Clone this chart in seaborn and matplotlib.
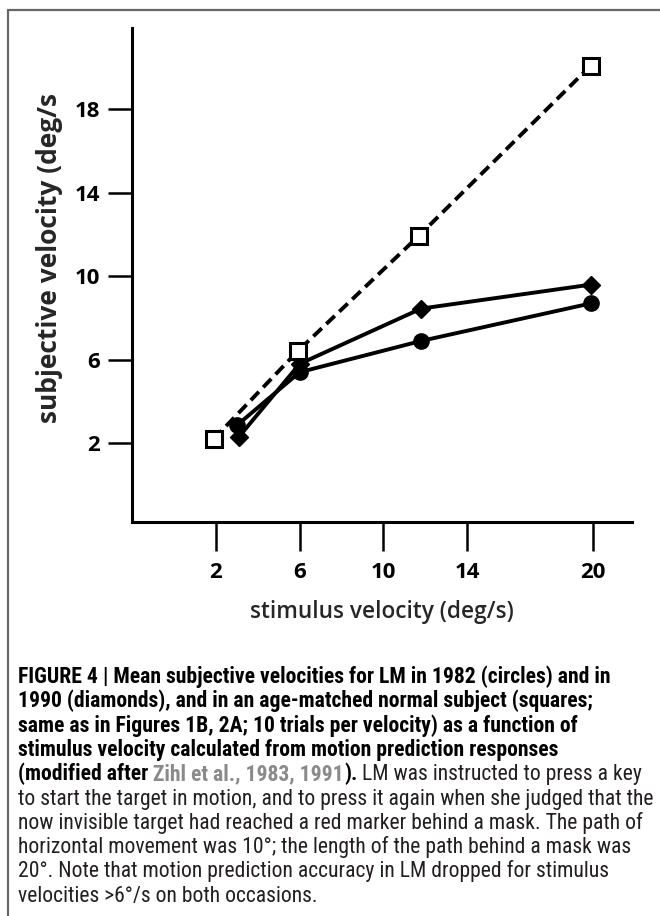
import numpy as np
import pandas as pd
import matplotlib
matplotlib.use("Agg")
import matplotlib.pyplot as plt
import seaborn as sns
from matplotlib import font_manager as fm
from matplotlib.patches import Rectangle

# values (stimulus velocity -> subjective velocity, deg/s)
stim_1982 = [3.0, 6.0, 11.8, 19.9]      # LM 1982, circles
subj_1982 = [2.85, 5.4, 6.9, 8.7]
stim_1990 = [3.1, 6.0, 11.8, 19.9]      # LM 1990, diamonds
subj_1990 = [2.3, 5.8, 8.45, 9.6]
stim_normal = [1.9, 5.9, 11.7, 19.9]    # normal subject, squares
subj_normal = [2.2, 6.4, 11.95, 20.1]

x_ticks = [2, 6, 10, 14, 20]
y_ticks = [2, 6, 10, 14, 18]

caption_lines = [
    [("FIGURE 4 | Mean subjective velocities for LM in 1982 (circles) and in", "bold", "black")],
    [("1990 (diamonds), and in an age-matched normal subject (squares;", "bold", "black")],
    [("same as in Figures 1B, 2A; 10 trials per velocity) as a function of", "bold", "black")],
    [("stimulus velocity calculated from motion prediction responses", "bold", "black")],
    [("(modified after", "bold", "black"),
     (" Zihl et al., 1983, 1991", "bold", "#8a8a8a"),
     (").", "bold", "black"),
     (" LM was instructed to press a key", "normal", "#231f20")],
    [("to start the target in motion, and to press it again when she judged that the", "normal", "#231f20")],
    [("now invisible target had reached a red marker behind a mask. The path of", "normal", "#231f20")],
    [("horizontal movement was 10°; the length of the path behind a mask was", "normal", "#231f20")],
    [("20°. Note that motion prediction accuracy in LM dropped for stimulus", "normal", "#231f20")],
    [("velocities >6°/s on both occasions.", "normal", "#231f20")],
]

sns.set_theme(style="white")
plt.rcParams["font.family"] = ["Open Sans", "DejaVu Sans"]
cap_family = ["Roboto Condensed", "DejaVu Sans"]


def face(name, weight, size):
    # pick the normal-width file for a weight, so a condensed cut is not chosen
    for f in fm.fontManager.ttflist:
        if f.name == name and f.weight == weight and f.stretch == "normal" and f.style == "normal":
            return fm.FontProperties(fname=f.fname, size=size)
    return fm.FontProperties(family=name, weight=weight, size=size)


W, H = 660, 916
fig = plt.figure(figsize=(W / 100, H / 100), dpi=100)

# grey frame round the figure panel (runs off the right and bottom)
fig.patches.append(Rectangle((8 / W, -0.05), 1.2, 1 - 10 / H + 0.05,
                             transform=fig.transFigure, fill=False,
                             ec="#666666", lw=1.6))

ax = fig.add_axes([132 / W, 1 - 522 / H, 500 / W, 494 / H])

sns.lineplot(x=stim_1982, y=subj_1982, ax=ax, color="black", lw=2.8,
             marker="o", ms=11, mfc="black", mec="black", mew=1, clip_on=False)
sns.lineplot(x=stim_1990, y=subj_1990, ax=ax, color="black", lw=2.8,
             marker="D", ms=9, mfc="black", mec="black", mew=1, clip_on=False)
sns.lineplot(x=stim_normal, y=subj_normal, ax=ax, color="black", lw=2.8,
             linestyle=(0, (3, 1.6)), marker="s", ms=11, mfc="white",
             mec="black", mew=2.2, clip_on=False, zorder=5)

ax.set_xlim(-2.0, 21.86)
ax.set_ylim(-1.78, 21.9)
ax.set_xticks(x_ticks)
ax.set_yticks(y_ticks)
ax.set_xticklabels([str(v) for v in x_ticks])
ax.set_yticklabels([str(v) for v in y_ticks])

sns.despine(ax=ax)
for side in ["left", "bottom"]:
    ax.spines[side].set_linewidth(2.2)
    ax.spines[side].set_color("black")

ax.tick_params(axis="x", bottom=True, length=21, width=1.8, pad=8,
               direction="out", colors="black")
ax.tick_params(axis="y", left=True, length=17, width=1.8, pad=6,
               direction="out", colors="black")
tick_font = face("Open Sans", 700, 16)
for lab in ax.get_xticklabels() + ax.get_yticklabels():
    lab.set_fontproperties(tick_font)

ax.set_xlabel("stimulus velocity (deg/s)", fontproperties=face("Open Sans", 600, 16.3))
ax.xaxis.set_label_coords(0.5, -0.182)
ax.xaxis.label.set_verticalalignment("center")
ax.set_ylabel("subjective velocity (deg/s", fontproperties=face("Open Sans", 700, 19))
ax.yaxis.set_label_coords(-0.164, 0.534)
ax.yaxis.label.set_verticalalignment("center")

# caption in a condensed sans, sized so the longest line fills the panel width
renderer = fig.canvas.get_renderer()
probe = fig.text(0, 0, caption_lines[5][0][0], fontsize=10, family=cap_family)
cap_size = 10 * 632 / probe.get_window_extent(renderer).width
probe.remove()

for i, segments in enumerate(caption_lines):
    y_px = 683 + 24.3 * i
    x_px = 18
    for txt, weight, color in segments:
        t = fig.text(x_px / W, 1 - y_px / H, txt, fontsize=cap_size,
                     fontweight=weight, color=color, family=cap_family,
                     ha="left", va="baseline")
        x_px = t.get_window_extent(renderer).x1

fig.savefig("out.png", dpi=100)
